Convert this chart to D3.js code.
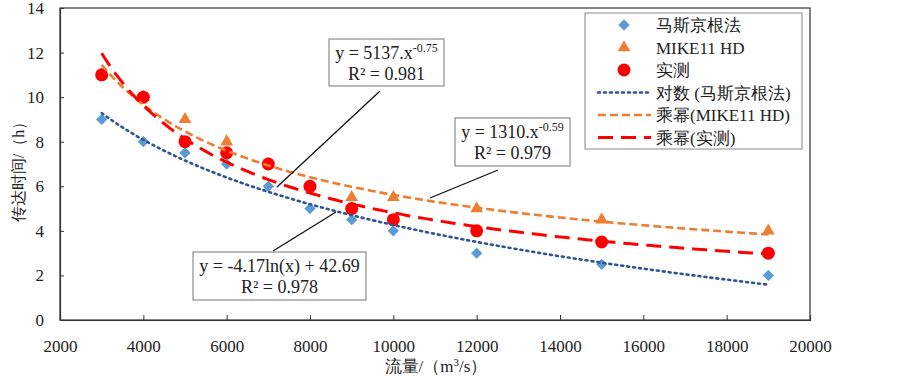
<!DOCTYPE html>
<html>
<head>
<meta charset="utf-8">
<script src="https://cdn.jsdelivr.net/npm/d3@7"></script>
<style>
  body { margin: 0; background: #fff; }
  svg text { font-family: "Times New Roman", "Liberation Serif", "DejaVu Serif", serif; fill: #222; }
</style>
</head>
<body>
<svg id="chart" width="903" height="376"></svg>
<script>
const flows = [3000, 4000, 5000, 6000, 7000, 8000, 9000, 10000, 12000, 15000, 19000];
const muskingum = [9, 8, 7.5, 7, 6, 5, 4.5, 4, 3, 2.5, 2];
const mike11 = [11, 10, 9, 8, 7, 6, 5.5, 5.5, 5, 4.5, 4];
const measured = [11, 10, 8, 7.5, 7, 6, 5, 4.5, 4, 3.5, 3];
const xTicks = [2000, 4000, 6000, 8000, 10000, 12000, 14000, 16000, 18000, 20000];
const yTicks = [0, 2, 4, 6, 8, 10, 12, 14];

const margin = { top: 8, right: 93, bottom: 56, left: 60 };
const svg = d3.select('#chart');
const width = 903 - margin.left - margin.right;
const height = 376 - margin.top - margin.bottom;
const g = svg.append('g').attr('transform', `translate(${margin.left},${margin.top})`);

const x = d3.scaleLinear([2000, 20000], [0, width]);
const y = d3.scaleLinear([0, 14], [height, 0]);

// least squares fits, the way the spreadsheet trendlines are made
function linFit(xs, ys) {
  const mx = d3.mean(xs), my = d3.mean(ys);
  const b = d3.sum(xs, (v, i) => (v - mx) * (ys[i] - my)) / d3.sum(xs, (v) => (v - mx) ** 2);
  return { b, a: my - b * mx };
}
function logFit(ys) {
  const f = linFit(flows.map(Math.log), ys);
  return (v) => f.a + f.b * Math.log(v);
}
function powFit(ys) {
  const f = linFit(flows.map(Math.log), ys.map(Math.log));
  return (v) => Math.exp(f.a) * v ** f.b;
}

// frame
g.append('rect').attr('width', width).attr('height', height)
  .attr('fill', 'none').attr('stroke', '#333').attr('stroke-width', 1.2);

const xAxis = g.append('g').attr('transform', `translate(0,${height})`)
  .call(d3.axisBottom(x).tickValues(xTicks).tickSize(-5).tickPadding(20).tickFormat(d3.format('d')));
const yAxis = g.append('g')
  .call(d3.axisLeft(y).tickValues(yTicks).tickSize(-4).tickPadding(16));
[xAxis, yAxis].forEach((a) => {
  a.attr('font-family', null);
  a.select('.domain').attr('stroke', '#333').attr('stroke-width', 1.2);
  a.selectAll('.tick line').attr('stroke', '#333');
  a.selectAll('.tick text').style('font-size', '17px').attr('fill', '#222');
});

svg.append('text').attr('x', 436).attr('y', 372).attr('text-anchor', 'middle')
  .style('font-size', '17px')
  .html('流量/（m<tspan dy="-6" font-size="11">3</tspan><tspan dy="6">/s）</tspan>');
svg.append('text').attr('transform', 'translate(24,168) rotate(-90)').attr('text-anchor', 'middle')
  .style('font-size', '16px').text('传达时间/（h）');

// markers
const diamond = d3.symbol(d3.symbolSquare, 64);
const tri = d3.symbol(d3.symbolTriangle, 70);
g.selectAll('.mk').data(flows).join('path')
  .attr('transform', (d, i) => `translate(${x(d)},${y(muskingum[i])}) rotate(45)`)
  .attr('d', diamond).attr('fill', '#5B9BD5');
g.selectAll('.tr').data(flows).join('path')
  .attr('transform', (d, i) => `translate(${x(d)},${y(mike11[i])})`)
  .attr('d', tri).attr('fill', '#ED7D31');
g.selectAll('.ci').data(flows).join('circle')
  .attr('cx', (d) => x(d)).attr('cy', (d, i) => y(measured[i]))
  .attr('r', 6.5).attr('fill', '#FF0000');

// trendlines
const xs = d3.range(3000, 19001, 100);
const trends = [
  { f: logFit(muskingum), color: '#2F5597', dash: '2 4', w: 2.6, cap: 'round' },
  { f: powFit(mike11), color: '#ED7D31', dash: '8 4', w: 2.6, cap: 'butt' },
  { f: powFit(measured), color: '#FF0000', dash: '15 8', w: 3, cap: 'butt' },
];
trends.forEach((t) => {
  g.append('path').datum(xs)
    .attr('d', d3.line().x((d) => x(d)).y((d) => y(t.f(d))))
    .attr('fill', 'none').attr('stroke', t.color).attr('stroke-width', t.w)
    .attr('stroke-dasharray', t.dash).attr('stroke-linecap', t.cap);
});

// equation labels
const notes = [
  { box: [329, 39, 115, 47], from: [380, 91], to: [277, 187], l1: 'y = 5137.x', sup: '-0.75', l2: 'R² = 0.981' },
  { box: [455, 118, 115, 48], from: [498, 170], to: [430, 198], l1: 'y = 1310.x', sup: '-0.59', l2: 'R² = 0.979' },
  { box: [193, 252, 173, 48], from: [273, 251], to: [336, 212], l1: 'y = -4.17ln(x) + 42.69', sup: null, l2: 'R² = 0.978' },
];
notes.forEach((n) => {
  svg.append('line').attr('x1', n.from[0]).attr('y1', n.from[1]).attr('x2', n.to[0]).attr('y2', n.to[1])
    .attr('stroke', '#111').attr('stroke-width', 1.3);
  svg.append('rect').attr('x', n.box[0]).attr('y', n.box[1]).attr('width', n.box[2]).attr('height', n.box[3])
    .attr('fill', '#fff').attr('stroke', '#777').attr('stroke-width', 1);
  const cx = n.box[0] + n.box[2] / 2;
  const t1 = svg.append('text').attr('x', cx).attr('y', n.box[1] + 20).attr('text-anchor', 'middle')
    .style('font-size', '18px').text(n.l1);
  if (n.sup) t1.append('tspan').attr('dy', -7).attr('font-size', '12px').text(n.sup);
  svg.append('text').attr('x', cx).attr('y', n.box[1] + 41).attr('text-anchor', 'middle')
    .style('font-size', '18px').text(n.l2);
});

// legend
const legend = svg.append('g');
legend.append('rect').attr('x', 585).attr('y', 13).attr('width', 217).attr('height', 136)
  .attr('fill', '#fff').attr('stroke', '#888');
const items = [
  { label: '马斯京根法', kind: 'diamond' },
  { label: 'MIKE11 HD', kind: 'tri' },
  { label: '实测', kind: 'circle' },
  { label: '对数 (马斯京根法)', kind: 0 },
  { label: '乘幂(MIKE11 HD)', kind: 1 },
  { label: '乘幂(实测)', kind: 2 },
];
items.forEach((it, i) => {
  const ly = 25 + i * 22.5;
  if (it.kind === 'diamond') {
    legend.append('path').attr('transform', `translate(624,${ly}) rotate(45)`).attr('d', diamond).attr('fill', '#5B9BD5');
  } else if (it.kind === 'tri') {
    legend.append('path').attr('transform', `translate(624,${ly})`).attr('d', tri).attr('fill', '#ED7D31');
  } else if (it.kind === 'circle') {
    legend.append('circle').attr('cx', 624).attr('cy', ly).attr('r', 6.5).attr('fill', '#FF0000');
  } else {
    const t = trends[it.kind];
    legend.append('line').attr('x1', 598).attr('x2', 651).attr('y1', ly).attr('y2', ly)
      .attr('stroke', t.color).attr('stroke-width', t.w).attr('stroke-dasharray', t.dash)
      .attr('stroke-linecap', t.cap);
  }
  legend.append('text').attr('x', 656).attr('y', ly + 6).style('font-size', '17px').text(it.label);
});
</script>
</body>
</html>
